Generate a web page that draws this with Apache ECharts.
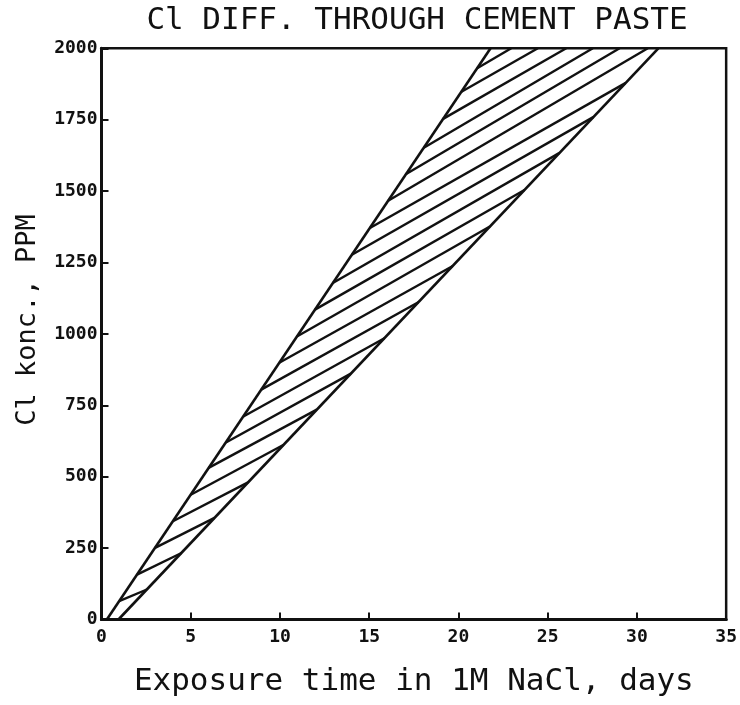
<!DOCTYPE html>
<html>
<head>
<meta charset="utf-8">
<script src="https://cdn.jsdelivr.net/npm/echarts@6/dist/echarts.min.js"></script>
<style>
html,body{margin:0;padding:0;background:#fff;}
#chart{width:740px;height:705px;}
</style>
</head>
<body>
<div id="chart"></div>
<script>
// Boundary lines of the hatched band (days, ppm)
const upperX = [0.3, 21.8];
const upperY = [0, 2000];
const lowerX = [0.95, 31.2];
const lowerY = [0, 2000];

// Hatch segments (start on upper line, end on lower line or top edge)
const hatchStartX = [0.99, 1.99, 3.00, 4.00, 5.00, 6.00, 6.97, 7.95, 8.95, 9.96, 10.95, 11.96, 12.96, 14.03, 15.04, 16.06, 17.07, 18.06, 19.14, 20.17, 21.05];
const hatchStartY = [64, 157, 251, 344, 437, 531, 620, 711, 805, 899, 991, 1085, 1178, 1277, 1371, 1466, 1560, 1652, 1753, 1848, 1930];
const hatchEndX = [2.54, 4.48, 6.33, 8.21, 10.21, 12.06, 13.97, 15.85, 17.75, 19.68, 21.76, 23.70, 25.64, 27.55, 29.35, 30.61, 29.03, 27.53, 26.04, 24.45, 22.96];
const hatchEndY = [105, 233, 356, 480, 612, 735, 861, 985, 1111, 1238, 1376, 1504, 1633, 1759, 1878, 2000, 2000, 2000, 2000, 2000, 2000];

const titleText = 'Cl DIFF. THROUGH CEMENT PASTE';
const xName = 'Exposure time in 1M NaCl, days';
const yName = 'Cl konc., PPM';

const FONT = '"DejaVu Sans Mono", "Liberation Mono", monospace';

const hatchData = hatchStartX.map((x, i) => ({
  coords: [[x, hatchStartY[i]], [hatchEndX[i], hatchEndY[i]]]
}));

const chart = echarts.init(document.getElementById('chart'), null, {renderer: 'canvas'});
chart.setOption({
  backgroundColor: '#fff',
  animation: false,
  grid: {
    left: 101.5, right: 13.3, top: 48.3, bottom: 85.5,
    show: true, borderColor: '#111', borderWidth: 2.5, backgroundColor: 'transparent'
  },
  xAxis: {
    type: 'value', min: 0, max: 35, interval: 5,
    name: xName, nameLocation: 'middle', nameGap: 47,
    nameTextStyle: {fontFamily: FONT, fontSize: 31, color: '#111'},
    axisLine: {lineStyle: {color: '#111', width: 3}},
    axisTick: {inside: true, length: 7, lineStyle: {color: '#111', width: 2}},
    axisLabel: {fontFamily: FONT, fontSize: 18, fontWeight: 'bold', color: '#111', margin: 9,
      formatter: v => String(v)},
    splitLine: {show: false}
  },
  yAxis: {
    type: 'value', min: 0, max: 2000, interval: 250,
    axisLine: {show: true, lineStyle: {color: '#111', width: 3}},
    axisTick: {show: true, inside: true, length: 7, lineStyle: {color: '#111', width: 2}},
    axisLabel: {fontFamily: FONT, fontSize: 18, fontWeight: 'bold', color: '#111', margin: 4,
      formatter: v => String(v)},
    splitLine: {show: false}
  },
  graphic: [{
    type: 'text',
    x: 417, y: 21,
    style: {
      text: titleText,
      fontFamily: FONT, fontSize: 31,
      fill: '#111',
      textAlign: 'center', textVerticalAlign: 'middle'
    }
  }, {
    type: 'text',
    x: 28, y: 320,
    rotation: Math.PI / 2,
    style: {
      text: yName,
      fontFamily: FONT, fontSize: 27,
      fill: '#111',
      textAlign: 'center', textVerticalAlign: 'middle'
    }
  }],
  series: [
    {
      type: 'line', name: 'upper', symbol: 'none',
      data: upperX.map((x, i) => [x, upperY[i]]),
      lineStyle: {color: '#111', width: 2.6}
    },
    {
      type: 'line', name: 'lower', symbol: 'none',
      data: lowerX.map((x, i) => [x, lowerY[i]]),
      lineStyle: {color: '#111', width: 2.6}
    },
    {
      type: 'lines', coordinateSystem: 'cartesian2d',
      data: hatchData,
      lineStyle: {color: '#111', width: 2.4, opacity: 1},
      effect: {show: false}
    }
  ]
});
</script>
</body>
</html>
